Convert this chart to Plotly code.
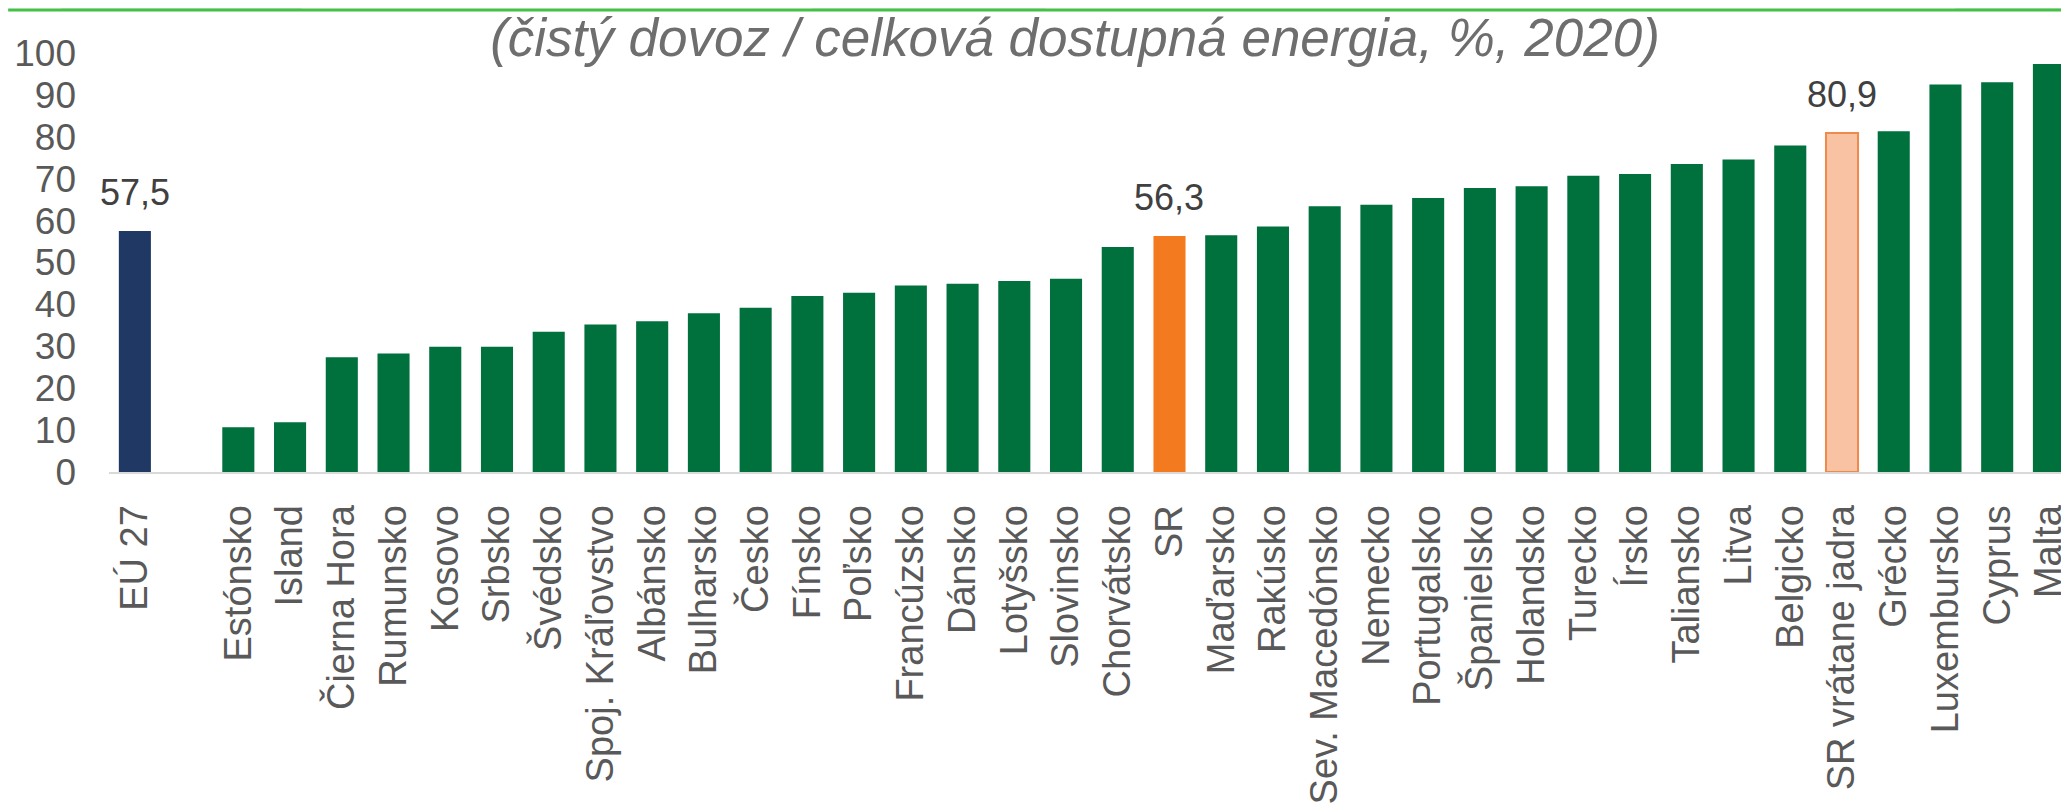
import plotly.graph_objects as go

categories = ["EÚ 27", " ", "Estónsko", "Island", "Čierna Hora", "Rumunsko", "Kosovo", "Srbsko",
              "Švédsko", "Spoj. Kráľovstvo", "Albánsko", "Bulharsko", "Česko", "Fínsko", "Poľsko",
              "Francúzsko", "Dánsko", "Lotyšsko", "Slovinsko", "Chorvátsko", "SR", "Maďarsko",
              "Rakúsko", "Sev. Macedónsko", "Nemecko", "Portugalsko", "Španielsko", "Holandsko",
              "Turecko", "Írsko", "Taliansko", "Litva", "Belgicko", "SR vrátane jadra", "Grécko",
              "Luxembursko", "Cyprus", "Malta"]

values = [57.5, None, 10.7, 11.9, 27.4, 28.3, 29.9, 29.9,
          33.5, 35.2, 36.0, 37.9, 39.2, 42.0, 42.8,
          44.5, 44.9, 45.6, 46.1, 53.7, 56.3, 56.5,
          58.6, 63.4, 63.8, 65.4, 67.8, 68.2,
          70.7, 71.1, 73.5, 74.6, 77.9, 80.9, 81.3,
          92.5, 93.0, 97.4]

labeled = ["EÚ 27", "SR", "SR vrátane jadra"]
title_text = "(čistý dovoz / celková dostupná energia, %, 2020)"

GREEN = "#00703C"
NAVY = "#1F3864"
ORANGE = "#F47A20"
SALMON = "#F9C2A3"
SALMON_LINE = "#EE8A4C"

colors = []
line_colors = []
line_widths = []
for c in categories:
    if c == "EÚ 27":
        colors.append(NAVY); line_colors.append(NAVY); line_widths.append(0)
    elif c == "SR":
        colors.append(ORANGE); line_colors.append(ORANGE); line_widths.append(0)
    elif c == "SR vrátane jadra":
        colors.append(SALMON); line_colors.append(SALMON_LINE); line_widths.append(2)
    else:
        colors.append(GREEN); line_colors.append(GREEN); line_widths.append(0)

FONT = "Liberation Sans, Arial, sans-serif"

fig = go.Figure()
fig.add_trace(go.Bar(
    x=categories, y=values,
    marker=dict(color=colors, line=dict(color=line_colors, width=line_widths)),
    hoverinfo="x+y",
))

annotations = []
for c, v in zip(categories, values):
    if c in labeled:
        annotations.append(dict(
            x=c, y=v, xref="x", yref="y",
            text=f"{v:.1f}".replace(".", ","),
            showarrow=False, yanchor="bottom", yshift=16,
            font=dict(family=FONT, size=36, color="#404040"),
        ))

# figure sits inside the page body (8px default margin)
W, H = 2061, 800
L, R, T, B = 101, 0, 45, 336

def px(xp):
    return (xp - L) / (W - L - R)

def py(yp):
    return (H - B - yp) / (H - T - B)

shapes = [
    dict(type="path", xref="paper", yref="paper", layer="below",
         path=f"M {px(50)} {py(2)} L {px(72)} {py(-8)} L {px(304)} {py(-8)} L {px(292)} {py(2)} Z",
         fillcolor="#D8ECE0", line=dict(width=0)),
    dict(type="path", xref="paper", yref="paper", layer="below",
         path=f"M {px(792)} {py(-8)} L {px(1049)} {py(-8)} L {px(1037)} {py(2)} L {px(807)} {py(2)} Z",
         fillcolor="#E3F1E8", line=dict(width=0)),
    dict(type="path", xref="paper", yref="paper", layer="below",
         path=f"M {px(1939)} {py(-8)} L {px(2061)} {py(-8)} L {px(2061)} {py(2)} L {px(1952)} {py(2)} Z",
         fillcolor="#D8ECE0", line=dict(width=0)),
    dict(type="line", xref="paper", yref="paper",
         x0=px(0), x1=px(W), y0=py(2), y1=py(2),
         line=dict(color="#44C044", width=3)),
]

fig.update_layout(
    width=W, height=H,
    margin=dict(l=L, r=R, t=T, b=B, pad=0),
    paper_bgcolor="white", plot_bgcolor="white",
    showlegend=False,
    bargap=0.38,
    font=dict(family=FONT, color="#595959"),
    title=dict(text=f"<i>{title_text}</i>", x=1067 / W, xanchor="center",
               y=1 - 29 / H, yanchor="middle", xref="container", yref="container",
               font=dict(family=FONT, size=53, color="#6E6E6E")),
    xaxis=dict(type="category", categoryorder="array", categoryarray=categories,
               range=[-0.5, 37.33], tickangle=-90, showgrid=False, zeroline=False,
               showline=True, linecolor="#D9D9D9", linewidth=2, ticks="",
               ticklabelstandoff=16,
               tickfont=dict(family=FONT, size=38, color="#595959")),
    yaxis=dict(range=[0, 100], dtick=10, tick0=0, showgrid=False, zeroline=False,
               showline=False, ticks="", ticklabelstandoff=32,
               tickfont=dict(family=FONT, size=37, color="#595959")),
    annotations=annotations,
    shapes=shapes,
)

fig.write_html("out.html")
